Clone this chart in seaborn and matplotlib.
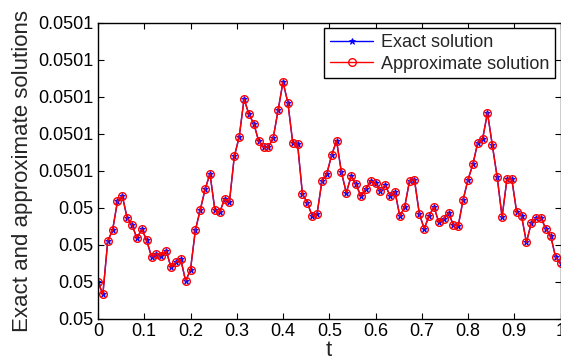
import matplotlib
matplotlib.use("Agg")
import matplotlib.pyplot as plt
from matplotlib.ticker import FixedLocator, FuncFormatter
import seaborn as sns
import numpy as np
import pandas as pd

# ---- data ----
t = np.linspace(0, 1, 96)
exact = [
    0.05002489, 0.05002157, 0.05003597, 0.05003895, 0.05004670, 0.05004814,
    0.05004211, 0.05004030, 0.05003670, 0.05003922, 0.05003616, 0.05003165,
    0.05003254, 0.05003200, 0.05003335, 0.05002886, 0.05003022, 0.05003103,
    0.05002516, 0.05002822, 0.05003895, 0.05004435, 0.05004995, 0.05005416,
    0.05004443, 0.05004373, 0.05004732, 0.05004659, 0.05005886, 0.05006408,
    0.05007435, 0.05007022, 0.05006768, 0.05006300, 0.05006130, 0.05006138,
    0.05006389, 0.05007138, 0.05007895, 0.05007335, 0.05006254, 0.05006211,
    0.05004859, 0.05004632, 0.05004273, 0.05004335, 0.05005219, 0.05005416,
    0.05005922, 0.05006308, 0.05005454, 0.05004903, 0.05005346, 0.05005130,
    0.05004805, 0.05005003, 0.05005219, 0.05005165, 0.05004941, 0.05005103,
    0.05004822, 0.05004930, 0.05004265, 0.05004524, 0.05005227, 0.05005254,
    0.05004335, 0.05003930, 0.05004273, 0.05004524, 0.05004103, 0.05004192,
    0.05004354, 0.05004030, 0.05004011, 0.05004714, 0.05005254, 0.05005670,
    0.05006254, 0.05006354, 0.05007065, 0.05006184, 0.05005319, 0.05004246,
    0.05005268, 0.05005268, 0.05004373, 0.05004273, 0.05003562, 0.05004084,
    0.05004211, 0.05004227, 0.05003922, 0.05003724, 0.05003157, 0.05002995,
]
approximate = list(exact)

x_ticks = [0, 0.1, 0.2, 0.3, 0.4, 0.5, 0.6, 0.7, 0.8, 0.9, 1.0]
x_tick_labels = ["0", "0.1", "0.2", "0.3", "0.4", "0.5", "0.6", "0.7", "0.8", "0.9", "1"]
y_ticks = [0.050015, 0.050025, 0.050035, 0.050045, 0.050055,
           0.050065, 0.050075, 0.050085, 0.050095]

df = pd.DataFrame({"t": t, "exact": exact, "approximate": approximate})

# ---- style ----
sns.set_style("ticks")
plt.rcParams["font.family"] = ["Liberation Sans", "DejaVu Sans"]

fig = plt.figure(figsize=(5.61, 3.60), dpi=100)
ax = fig.add_axes([98 / 561, 41.4 / 360, 462.5 / 561, 296 / 360])

sns.lineplot(data=df, x="t", y="exact", ax=ax, color="blue", linewidth=1.0,
             marker="*", markersize=5, markerfacecolor="blue",
             markeredgecolor="blue", markeredgewidth=0.6,
             label="Exact solution")
sns.lineplot(data=df, x="t", y="approximate", ax=ax, color="red", linewidth=1.0,
             marker="o", markersize=5.5, markerfacecolor="none",
             markeredgecolor="red", markeredgewidth=1.0,
             label="Approximate solution")

ax.set_xlim(0, 1)
ax.set_ylim(y_ticks[0], y_ticks[-1])
ax.xaxis.set_major_locator(FixedLocator(x_ticks))
ax.set_xticklabels(x_tick_labels)
ax.yaxis.set_major_locator(FixedLocator(y_ticks))
ax.yaxis.set_major_formatter(FuncFormatter(lambda v, p: f"{v:.4f}".rstrip("0")))

ax.tick_params(direction="in", length=4, width=0.8, top=True, right=True,
               labelsize=13, colors="black", pad=3)
for s in ax.spines.values():
    s.set_visible(True)
    s.set_linewidth(1.0)
    s.set_color("black")

ax.set_xlabel("t", fontsize=16, labelpad=0)
ax.set_ylabel("Exact and approximate solutions", fontsize=16, labelpad=4)

leg = ax.legend(loc="upper right", fontsize=13, frameon=True, fancybox=False,
                framealpha=1, edgecolor="black", handlelength=2.4,
                borderaxespad=0.32, borderpad=0.32, labelspacing=0.25,
                handletextpad=0.4)
leg.get_frame().set_linewidth(1.0)

fig.savefig("out.png", dpi=100)
